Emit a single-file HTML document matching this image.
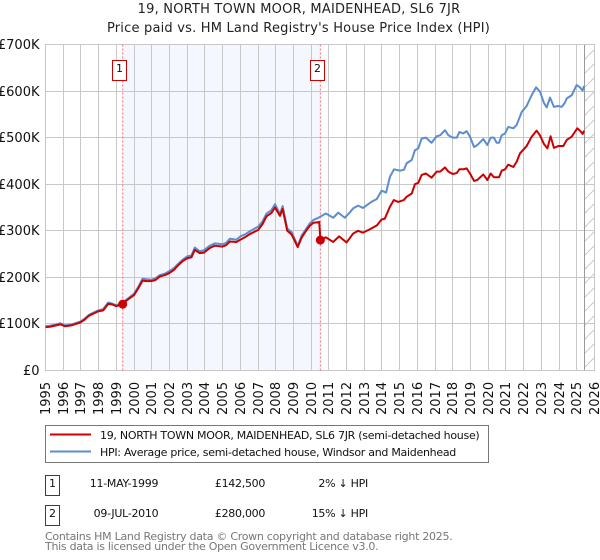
<!DOCTYPE html>
<html lang="en">
<head>
<meta charset="utf-8">
<title>19, NORTH TOWN MOOR, MAIDENHEAD, SL6 7JR</title>
<style>
html,body{margin:0;padding:0;background:#fff;width:600px;height:560px;overflow:hidden}
svg{display:block;font-family:"DejaVu Sans",sans-serif}
.tx{letter-spacing:-0.28px}
.ttl{letter-spacing:0.2px}
</style>
</head>
<body>
<svg id="chart" xmlns="http://www.w3.org/2000/svg" width="600" height="560" viewBox="0 0 600 560">
<text class="ttl" x="299" y="13" font-size="13" text-anchor="middle" fill="#222">19, NORTH TOWN MOOR, MAIDENHEAD, SL6 7JR</text>
<text class="ttl" x="298.5" y="32" font-size="13" text-anchor="middle" fill="#222">Price paid vs. HM Land Registry's House Price Index (HPI)</text>
<g id="plot"></g>
<rect x="45.5" y="425.5" width="443" height="37" fill="#fff" stroke="#777"/>
<line x1="50" x2="91" y1="434.5" y2="434.5" stroke="#cc0000" stroke-width="2"/>
<text class="tx" x="100" y="439" font-size="11" fill="#111">19, NORTH TOWN MOOR, MAIDENHEAD, SL6 7JR (semi-detached house)</text>
<line x1="50" x2="91" y1="451.5" y2="451.5" stroke="#5b8dd0" stroke-width="2"/>
<text class="tx" x="100" y="456" font-size="11" fill="#111">HPI: Average price, semi-detached house, Windsor and Maidenhead</text>
<rect x="45.5" y="475.5" width="14" height="20" fill="#fff" stroke="#cc0000"/>
<text x="52.5" y="487" font-size="11" text-anchor="middle" fill="#111">1</text>
<text class="tx" x="124" y="487" font-size="11" text-anchor="middle" fill="#111">11-MAY-1999</text>
<text class="tx" x="240" y="487" font-size="11" text-anchor="middle" fill="#111">£142,500</text>
<text class="tx" x="368" y="487" font-size="11" text-anchor="end" fill="#111">2% ↓ HPI</text>
<rect x="45.5" y="505.5" width="14" height="20" fill="#fff" stroke="#cc0000"/>
<text x="52.5" y="517" font-size="11" text-anchor="middle" fill="#111">2</text>
<text class="tx" x="126" y="517" font-size="11" text-anchor="middle" fill="#111">09-JUL-2010</text>
<text class="tx" x="240" y="517" font-size="11" text-anchor="middle" fill="#111">£280,000</text>
<text class="tx" x="368" y="517" font-size="11" text-anchor="end" fill="#111">15% ↓ HPI</text>
<text class="tx" x="45" y="540" font-size="11" fill="#777">Contains HM Land Registry data © Crown copyright and database right 2025.</text>
<text class="tx" x="45" y="550" font-size="11" fill="#777">This data is licensed under the Open Government Licence v3.0.</text>
</svg>
<script>
const yearTicks = [1995,1996,1997,1998,1999,2000,2001,2002,2003,2004,2005,2006,2007,2008,2009,2010,2011,2012,2013,2014,2015,2016,2017,2018,2019,2020,2021,2022,2023,2024,2025,2026];
const priceTicks = [0,100,200,300,400,500,600,700];
const priceTickLabels = ['£0','£100K','£200K','£300K','£400K','£500K','£600K','£700K'];
const saleYears = [1999.36,2010.52];
const salePrices = [142.5,280];
const saleNumbers = ['1','2'];
const lastDataYear = 2025.44;
const hpiYears = [
1995,1995.25,1995.5,1995.85,1996.09,1996.47,1996.96,1997.2,1997.47,1997.97,
1998.26,1998.54,1998.75,1999,1999.33,1999.6,2000,2000.23,2000.48,2000.7,
2000.99,2001.2,2001.46,2001.75,2001.98,2002.25,2002.49,2002.75,2003,2003.24,
2003.43,2003.71,2003.94,2004.28,2004.56,2004.99,2005.2,2005.41,2005.78,2006.01,
2006.3,2006.54,2007.01,2007.25,2007.48,2007.75,2007.96,2008.24,2008.39,2008.65,
2008.9,2009.24,2009.47,2009.75,2009.93,2010.12,2010.46,2010.83,2011.25,2011.53,
2011.9,2012.15,2012.37,2012.65,2012.93,2013.4,2013.7,2013.98,2014.23,2014.45,
2014.68,2015.02,2015.24,2015.39,2015.68,2015.86,2016.05,2016.24,2016.48,2016.8,
2017.09,2017.28,2017.56,2017.75,2017.99,2018.22,2018.37,2018.59,2018.78,2018.97,
2019.2,2019.38,2019.72,2019.95,2020.14,2020.32,2020.47,2020.61,2020.76,2020.95,
2021.13,2021.42,2021.6,2021.89,2022.17,2022.45,2022.7,2022.92,2023.15,2023.3,
2023.49,2023.71,2023.96,2024.15,2024.33,2024.43,2024.71,2024.99,2025.18,2025.33,
2025.41];
const hpiValues = [
95,96,98,101.5,97,99,105,111,120,129,
132,146,144,140,145,153,165,179,197,196,
195,198,205,208,213,220,229,238,245,247,
264,256,258,268,273,271,274,283,281,288,
293,299,309,320,337,344,357,336,353,305,
297,268,290,306,316,323,329,337,328,339,
328,338,348,354,349,362,368,386,382,416,
432,429,431,445,452,473,477,498,500,489,
503,505,516,505,500,500,512,509,514,502,
480,484,497,484,500,500,489,489,505,509,
523,520,527,555,568,591,608,599,574,565,
586,566,568,566,575,584,591,613,608,601,
611];
const paidYears = [
1995,1995.25,1995.5,1995.85,1996.09,1996.47,1996.96,1997.2,1997.47,1997.97,
1998.26,1998.54,1998.75,1999,1999.33,1999.6,2000,2000.23,2000.48,2000.7,
2000.99,2001.2,2001.46,2001.75,2001.98,2002.25,2002.49,2002.75,2003,2003.24,
2003.43,2003.71,2003.94,2004.28,2004.56,2004.99,2005.2,2005.41,2005.78,2006.01,
2006.3,2006.54,2007.01,2007.25,2007.48,2007.75,2007.96,2008.24,2008.39,2008.65,
2008.9,2009.24,2009.47,2009.75,2009.93,2010.12,2010.46,2010.52,2010.83,2011.24,
2011.58,2012,2012.37,2012.65,2012.93,2013.4,2013.72,2013.97,2014.16,2014.44,
2014.67,2014.91,2015.23,2015.39,2015.68,2015.86,2016.05,2016.24,2016.48,2016.8,
2017.09,2017.28,2017.56,2017.75,2017.99,2018.22,2018.37,2018.59,2018.78,2018.97,
2019.2,2019.38,2019.72,2019.95,2020.14,2020.32,2020.61,2020.76,2020.95,2021.13,
2021.42,2021.6,2021.79,2022.17,2022.45,2022.73,2022.92,2023.15,2023.34,2023.52,
2023.71,2023.96,2024.24,2024.43,2024.71,2025.03,2025.18,2025.33,2025.41];
const paidValues = [
93,94,96,99,95,97,103,109,118,127,
129,143,142,138,142.5,151,162,176,193,192,
192,194,202,205,209,216,226,235,241,243,
259,252,253,263,268,266,269,277,276,281,
287,293,302,314,331,338,350,332,347,300,
292,265,286,302,311,317,319,280,286,276,
288,275,294,300,296,305,312,324,326,351,
366,362,366,373,380,400,403,420,423,414,
427,427,436,427,422,424,432,432,434,423,
407,409,421,409,423,415,415,429,432,442,
437,448,466,482,502,515,505,486,477,503,
478,482,482,495,502,520,515,508,515];

const NS = 'http://www.w3.org/2000/svg';
const plot = document.getElementById('plot');
const left = 45.5, right = 594.5, top0 = 44.5, bottom = 370.5;
const xScale = y => left + (y - 1995) * (right - left) / 31;
const yScale = v => bottom - v * (bottom - top0) / 700;
const snap = p => Math.floor(p) + 0.5;
const mk = (tag, attrs) => {
  const e = document.createElementNS(NS, tag);
  for (const k in attrs) e.setAttribute(k, attrs[k]);
  plot.appendChild(e);
  return e;
};
const line2path = (xs, ys) => xs.map((x, i) => (i ? 'L' : 'M') + xScale(x).toFixed(2) + ' ' + yScale(ys[i]).toFixed(2)).join('');

const band = mk('rect', {x: xScale(saleYears[0]), y: top0, width: xScale(saleYears[1]) - xScale(saleYears[0]), height: bottom - top0, fill: '#f4f7fe'});



yearTicks.forEach((yr) => {
  const gx = snap(xScale(yr));
  const g = mk('line', {x1: gx, x2: gx, y1: top0, y2: bottom, stroke: '#c8c8c8'});
  
  
  const t = mk('text', {transform: 'translate(' + (gx + 4.5) + ',415) rotate(-90)', 'font-size': 13, fill: '#111'});
  t.textContent = yr;
  
  
});
priceTicks.forEach((v, i) => {
  const gy = snap(yScale(v));
  const g = mk('line', {x1: left, x2: right, y1: gy, y2: gy, stroke: '#c8c8c8'});
  
  
  const t = mk('text', {x: 39.5, y: gy + 4.5, 'font-size': 13, 'text-anchor': 'end', fill: '#111'});
  t.textContent = priceTickLabels[i];
  
  
});

const fx = snap(xScale(lastDataYear));
const defs = mk('defs', {});
const pat = document.createElementNS(NS, 'pattern');
pat.setAttribute('id', 'hatch');
pat.setAttribute('patternUnits', 'userSpaceOnUse');
pat.setAttribute('width', 14);
pat.setAttribute('height', 14);
const pl = document.createElementNS(NS, 'line');
pl.setAttribute('x1', 0);
pl.setAttribute('y1', 14);
pl.setAttribute('x2', 14);
pl.setAttribute('y2', 0);
pl.setAttribute('stroke', '#c8c8c8');
pat.appendChild(pl);
defs.appendChild(pat);
const hatch = mk('rect', {x: fx, y: top0, width: right - fx, height: bottom - top0, fill: 'url(#hatch)'});


const endLine = mk('line', {x1: fx, x2: fx, y1: top0, y2: bottom, stroke: '#999'});



const frame = mk('rect', {x: left, y: top0, width: right - left, height: bottom - top0, fill: 'none', stroke: '#c8c8c8'});



saleYears.forEach((yr) => {
  const vx = xScale(yr);
  const v = mk('line', {x1: vx, x2: vx, y1: top0, y2: bottom, stroke: '#ff6b7a', 'stroke-dasharray': '2 2'});
  
  
});

const hpiLine = mk('path', {d: line2path(hpiYears, hpiValues), fill: 'none', stroke: '#5b8dd0', 'stroke-width': 2, 'stroke-linejoin': 'round'});


const paidLine = mk('path', {d: line2path(paidYears, paidValues), fill: 'none', stroke: '#cc0000', 'stroke-width': 2, 'stroke-linejoin': 'round'});



saleYears.forEach((yr, i) => {
  const d = mk('circle', {cx: xScale(yr), cy: yScale(salePrices[i]), r: 4.5, fill: '#cc0000'});
  
  
  const bx = snap(xScale(yr)) - 10;
  const b = mk('rect', {x: bx, y: 60.5, width: 14, height: 20, fill: '#fff', stroke: '#cc0000'});
  
  
  const t = mk('text', {x: bx + 7, y: 72, 'font-size': 11, 'text-anchor': 'middle', fill: '#111'});
  t.textContent = saleNumbers[i];
  
  
});
</script>
</body>
</html>
